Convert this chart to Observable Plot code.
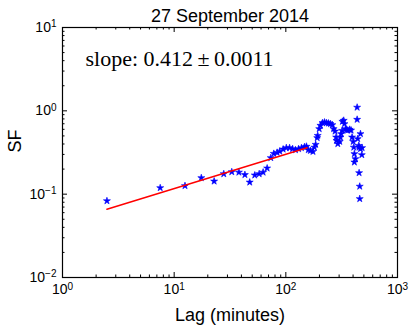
<!DOCTYPE html>
<html><head><meta charset="utf-8">
<script src="https://cdn.jsdelivr.net/npm/d3@7"></script>
<script src="https://cdn.jsdelivr.net/npm/@observablehq/plot@0.6"></script>
<style>body{margin:0;background:#fff}</style>
</head><body><div id="chart"></div>
<script>
const lag = [2.5,7.5,12.5,17.5,22.8,27.8,32.8,38,43,47.5,
  52.7,57.7,62.6,68,73.3,78,83.6,88.2,94.6,101,
  108,115,122,130,138,147,153,159,166,175,
  180,185,191,193,199,204,213,222,231,241,
  251,261,268,276,282,284,292,304,308,313,
  319,321,330,335,342,349,358,373,384,392,
  401,406,411,411,420,435,435,440,450,453,
  453,459,459,466,466,479,482];
const sf = [.083,.119,.126,.157,.143,.175,.185,.183,.171,.139,
  .169,.175,.183,.205,.273,.307,.316,.327,.346,.360,
  .360,.350,.340,.350,.360,.370,.374,.340,.333,.324,
  .365,.394,.474,.505,.608,.667,.718,.730,.718,.710,
  .698,.679,.608,.569,.482,.440,.402,.428,.482,.530,
  .580,.745,.766,.698,.608,.591,.585,.597,.585,.482,
  .428,.365,.305,.242,.265,1.10,.787,.461,.383,.365,
  .180,.124,.088,.530,.350,.296,.360];
const fitLag = [2.5, 155];
const fitSF = [0.066, 0.36];
const xMajor = [1, 10, 100, 1000];
const xTickLabels = ["10^0", "10^1", "10^2", "10^3"];
const yMajor = [0.01, 0.1, 1, 10];
const yTickLabels = ["10^-2", "10^-1", "10^0", "10^1"];
const xMinor = [2,3,4,5,6,7,8,9,20,30,40,50,60,70,80,90,200,300,400,500,600,700,800,900];
const yMinor = [0.02,0.03,0.04,0.05,0.06,0.07,0.08,0.09,0.2,0.3,0.4,0.5,0.6,0.7,0.8,0.9,2,3,4,5,6,7,8,9];
const title = "27 September 2014";
const xLabel = "Lag (minutes)";
const yLabel = "SF";
const annotation = "slope: 0.412\u2009\u00b1\u20090.0011";

const points = lag.map((d, i) => ({lag: d, sf: sf[i]}));
const fit = fitLag.map((d, i) => ({lag: d, sf: fitSF[i]}));
const font = "'Liberation Sans', Arial, Helvetica, sans-serif";

const W = 415, H = 331, mL = 62, mR = 18, mT = 27, mB = 54;
const innerW = W - mL - mR, innerH = H - mT - mB;
const majorLen = 5, minorLen = 2.5;

// a tick hanging from the top edge (or left edge); shifted to the opposite edge with dy/dx
const topTicks = (vals, len, shift) => Plot.tickX(vals, {x: d => d, insetBottom: innerH - len, dy: shift ? innerH - len : 0, stroke: "black"});
const leftTicks = (vals, len, shift) => Plot.tickY(vals, {y: d => d, insetRight: innerW - len, dx: shift ? innerW - len : 0, stroke: "black"});

const chart = Plot.plot({
  width: W, height: H,
  marginLeft: mL, marginRight: mR, marginTop: mT, marginBottom: mB,
  style: {fontFamily: font, fontSize: "14px", background: "white", color: "black"},
  x: {type: "log", domain: [1, 1000]},
  y: {type: "log", domain: [0.01, 10]},
  marks: [
    topTicks(xMajor, majorLen, false),
    topTicks(xMajor, majorLen, true),
    topTicks(xMinor, minorLen, false),
    topTicks(xMinor, minorLen, true),
    leftTicks(yMajor, majorLen, false),
    leftTicks(yMajor, majorLen, true),
    leftTicks(yMinor, minorLen, false),
    leftTicks(yMinor, minorLen, true),
    Plot.frame({stroke: "black", strokeWidth: 1.2}),
    Plot.axisX(xMajor, {anchor: "bottom", tickSize: 0, tickPadding: 7, fontSize: 14,
      tickFormat: d => xTickLabels[xMajor.indexOf(d)], label: null}),
    Plot.axisY(yMajor, {anchor: "left", tickSize: 0, tickPadding: 6, fontSize: 14,
      tickFormat: d => yTickLabels[yMajor.indexOf(d)], label: null}),
    Plot.dot(points, {x: "lag", y: "sf", symbol: "star", r: 2.2, fill: "#0000ff", stroke: "#0000ff", strokeWidth: 0.6}),
    Plot.line(fit, {x: "lag", y: "sf", stroke: "#ff0000", strokeWidth: 1.5}),
    Plot.text([title], {frameAnchor: "top", dy: -6, lineAnchor: "bottom", fontSize: 18, fill: "black"}),
    Plot.text([xLabel], {frameAnchor: "bottom", dy: 43, lineAnchor: "bottom", fontSize: 18, fill: "black"}),
    Plot.text([yLabel], {frameAnchor: "left", dx: -42, rotate: -90, lineAnchor: "bottom", fontSize: 18, fill: "black"}),
    Plot.text([annotation], {frameAnchor: "top-left", dx: 23, dy: 38, lineAnchor: "bottom", textAnchor: "start",
      fontSize: 22, fontFamily: "'Liberation Serif', 'Times New Roman', serif", fill: "black"})
  ]
});

// render exponents as superscripts
d3.select(chart).selectAll("text").each(function() {
  const t = this.textContent;
  const m = /^10\^(-?\d+)$/.exec(t);
  if (!m) return;
  const sel = d3.select(this);
  sel.text(null);
  sel.append("tspan").text("10");
  sel.append("tspan").attr("dy", "-0.45em").attr("font-size", "10px").text(m[1].replace("-", "\u2212"));
});

document.getElementById("chart").appendChild(chart);
</script>
</body></html>
